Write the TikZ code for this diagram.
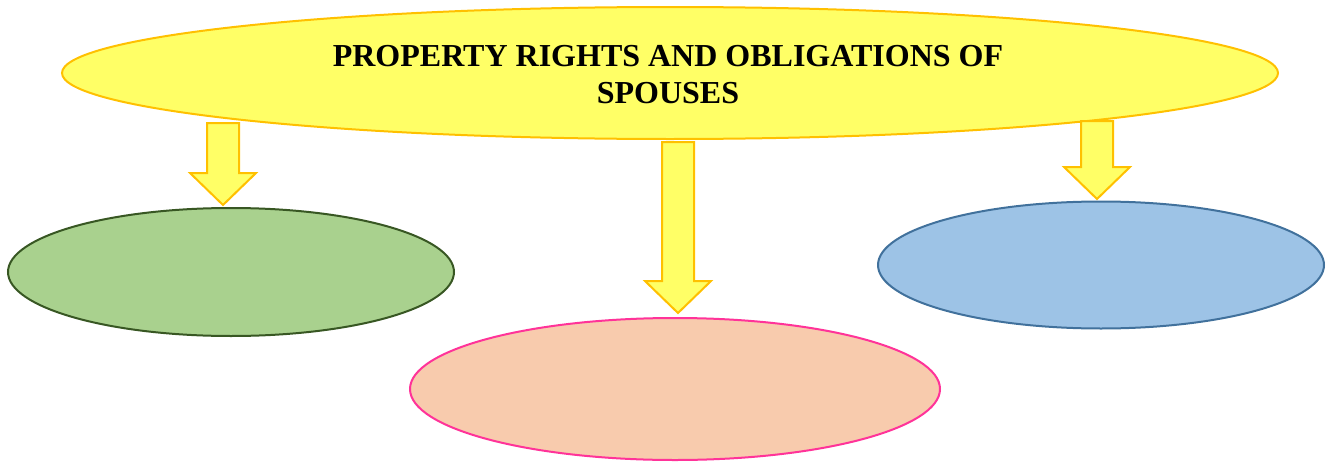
\documentclass[tikz,border=0pt]{standalone}
\usepackage{fontspec}
\setmainfont{Liberation Serif}
\usetikzlibrary{shapes.geometric,calc}
\definecolor{ytitle}{HTML}{FFFF66}
\definecolor{gold}{HTML}{FFC000}
\definecolor{gfill}{HTML}{A9D18E}
\definecolor{gline}{HTML}{385723}
\definecolor{pfill}{HTML}{F8CBAD}
\definecolor{pline}{HTML}{FF3399}
\definecolor{bfill}{HTML}{9DC3E6}
\definecolor{bline}{HTML}{41719C}
\newcommand\blockarr[2]{%
  \draw[barrow] ($(#1)+(-16,0)$) -- ($(#1)+(16,0)$) -- ($(#2)+(16,-32)$) -- ($(#2)+(33,-32)$) -- (#2) -- ($(#2)+(-33,-32)$) -- ($(#2)+(-16,-32)$) -- cycle;}
\begin{document}
\begin{tikzpicture}[x=1pt,y=-1pt,
  oval/.style={ellipse, inner sep=0pt, line width=2pt},
  barrow/.style={fill=ytitle, draw=gold, line width=2pt, line join=miter}]
\useasboundingbox (0,0) rectangle (1328,463);
\node[oval, fill=ytitle, draw=gold, minimum width=1216pt, minimum height=132pt] (title) at (670,73) {};
\node[align=center, inner sep=0pt, font=\fontsize{32}{37}\selectfont\bfseries] (titletext) at (668,75)
  {PROPERTY RIGHTS AND OBLIGATIONS OF\\SPOUSES};
\coordinate (t1) at (223,123); \coordinate (p1) at (223,205);
\coordinate (t2) at (678,142); \coordinate (p2) at (678,313);
\coordinate (t3) at (1097,121); \coordinate (p3) at (1097,199);
\blockarr{t1}{p1}
\blockarr{t2}{p2}
\blockarr{t3}{p3}
\node[oval, fill=gfill, draw=gline, minimum width=446pt, minimum height=128pt] (left) at (231,272) {};
\node[oval, fill=pfill, draw=pline, minimum width=530pt, minimum height=142pt] (mid) at (675,389) {};
\node[oval, fill=bfill, draw=bline, minimum width=446pt, minimum height=127pt] (right) at (1101,265) {};
\end{tikzpicture}
\end{document}
